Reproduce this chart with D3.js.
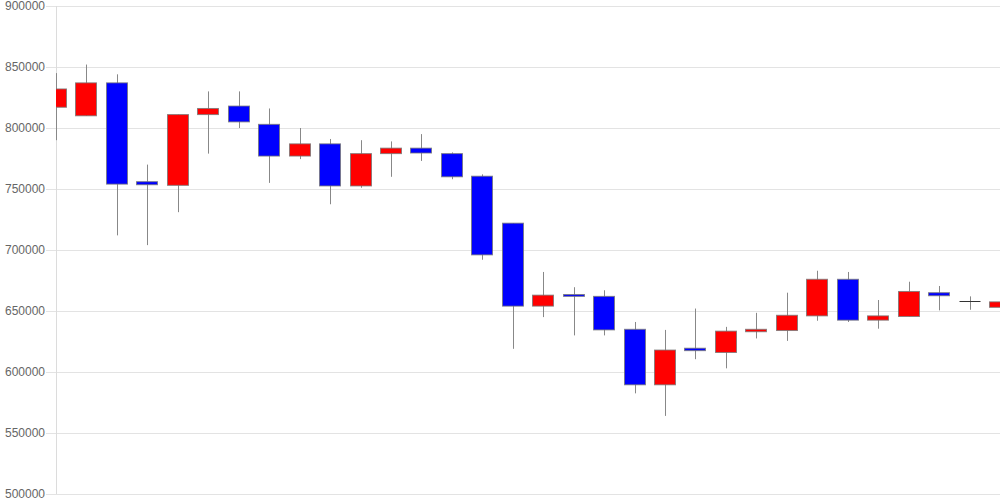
<!DOCTYPE html>
<html><head><meta charset="utf-8">
<script src="https://cdn.jsdelivr.net/npm/d3@7"></script>
<style>body{margin:0;background:#fff}svg{display:block}</style>
</head><body>
<svg id="c" width="1000" height="500"></svg>
<script>
const opens  = [817000,810000,837000,756000,753000,811000,818000,803000,777000,787000,752500,779000,783500,779000,760500,722000,654000,663500,662000,635000,589500,619500,616000,633000,634000,646000,676000,642500,645500,665000,658000,653000];
const closes = [832000,837000,754000,753500,811000,816000,805000,777000,787000,752500,779000,783500,779500,760000,696000,654000,663000,662000,634500,589500,618000,617500,633500,635000,646500,676000,642500,646000,666000,662500,658000,657500];
const highs  = [845000,852000,844000,770000,811000,830000,830000,816000,800000,791000,790000,789000,795000,780000,762000,722000,682000,669500,667000,641000,634500,652000,637000,648500,665000,683000,682000,659000,674000,670500,662000,664000];
const lows   = [790000,810000,712000,704000,731000,779000,800000,755000,774500,737500,751000,760000,773000,758000,692000,619000,645000,630000,630000,582500,564000,610500,603000,627500,625500,642000,641000,635500,645500,650500,651000,650800];
const yTicks = [500000,550000,600000,650000,700000,750000,800000,850000,900000];

const svg = d3.select('#c');
const L = 56, R = 1000, T = 6, B = 494;
const x = d3.scaleLinear().domain([0, opens.length - 1]).range([L, R]);
const y = d3.scaleLinear().domain([500000, 900000]).range([B, T]);

// grid
svg.append('g').selectAll('line').data(yTicks).join('line')
  .attr('x1', 46).attr('x2', R)
  .attr('y1', d => Math.round(y(d)) + 0.5).attr('y2', d => Math.round(y(d)) + 0.5)
  .attr('stroke', '#e3e3e3').attr('stroke-width', 1);
svg.append('line').attr('x1', L + 0.5).attr('x2', L + 0.5).attr('y1', T).attr('y2', B)
  .attr('stroke', '#dcdcdc');

// labels
svg.append('g').selectAll('text').data(yTicks).join('text')
  .attr('x', 45).attr('y', d => y(d)).attr('dy', '0.35em')
  .attr('text-anchor', 'end')
  .attr('font-family', 'Liberation Sans, Arial, sans-serif').attr('font-size', 12)
  .attr('fill', '#666').text(d => d);

// clip
svg.append('clipPath').attr('id', 'pc').append('rect')
  .attr('x', L).attr('y', 0).attr('width', R - L).attr('height', 500);
const g = svg.append('g').attr('clip-path', 'url(#pc)');

const idx = d3.range(opens.length);
const bw = 22;
g.selectAll('line.w').data(idx).join('line').attr('class', 'w')
  .attr('x1', i => Math.round(x(i)) + 0.5).attr('x2', i => Math.round(x(i)) + 0.5)
  .attr('y1', i => y(highs[i])).attr('y2', i => y(lows[i]))
  .attr('stroke', '#888').attr('stroke-width', 1);

g.selectAll('rect.b').data(idx.filter(i => opens[i] !== closes[i])).join('rect').attr('class', 'b')
  .attr('x', i => Math.round(x(i)) - bw / 2 + 0.5)
  .attr('y', i => y(Math.max(opens[i], closes[i])))
  .attr('width', bw - 1)
  .attr('height', i => Math.max(1, y(Math.min(opens[i], closes[i])) - y(Math.max(opens[i], closes[i]))))
  .attr('fill', i => closes[i] > opens[i] ? '#ff0000' : '#0000ff')
  .attr('stroke', '#777').attr('stroke-opacity', 0.8).attr('stroke-width', 1);

g.selectAll('line.d').data(idx.filter(i => opens[i] === closes[i])).join('line').attr('class', 'd')
  .attr('x1', i => Math.round(x(i)) - bw / 2 + 0.5).attr('x2', i => Math.round(x(i)) + bw / 2 - 0.5)
  .attr('y1', i => Math.round(y(opens[i])) + 0.5).attr('y2', i => Math.round(y(opens[i])) + 0.5)
  .attr('stroke', '#333').attr('stroke-width', 1);
</script>
</body></html>
